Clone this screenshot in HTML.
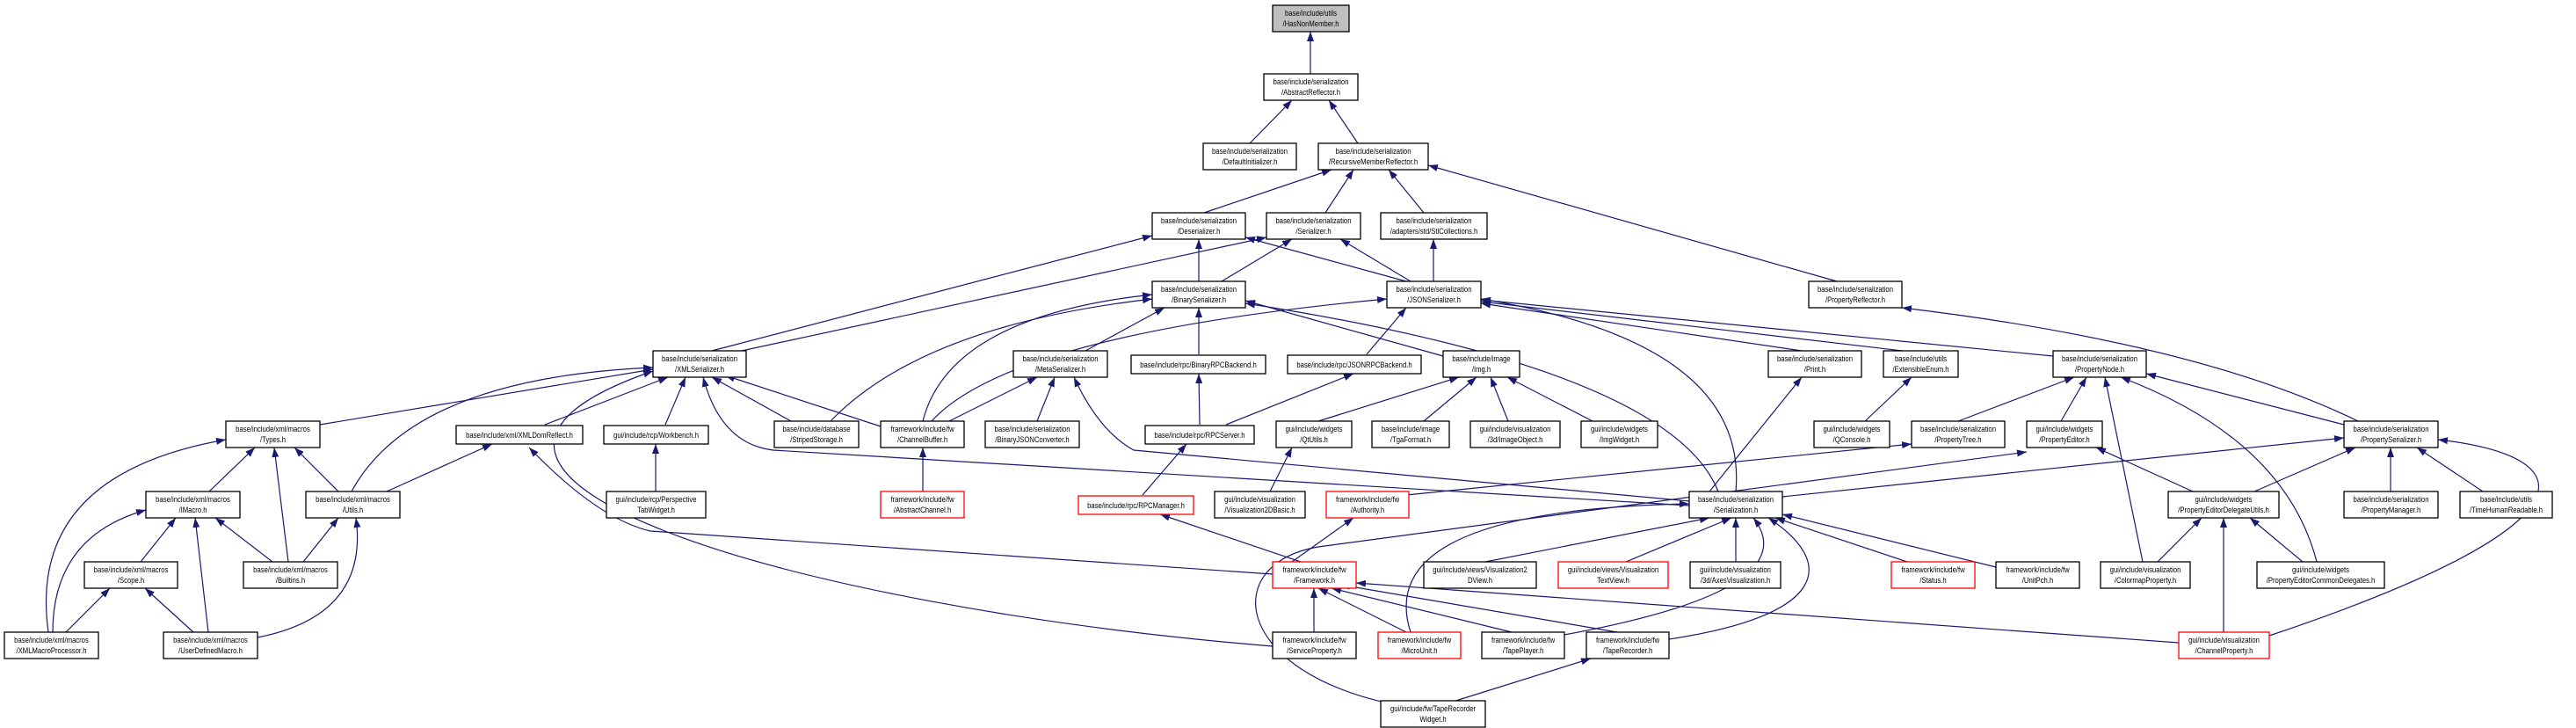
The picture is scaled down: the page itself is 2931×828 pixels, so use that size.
<!DOCTYPE html>
<html><head><meta charset="utf-8">
<style>
html,body{margin:0;padding:0;background:#fff;}
svg{display:block;}
text{font-family:"Liberation Sans",sans-serif;font-size:9.4px;fill:#000;transform-box:fill-box;transform-origin:center;transform:scaleX(0.82);}
.n{fill:#fff;stroke:#000;stroke-width:1.3;}
.g{fill:#bfbfbf;stroke:#000;stroke-width:1.3;}
.r{fill:#fff;stroke:#ff0000;stroke-width:1.3;}
.e{fill:none;stroke:#191970;stroke-width:1.2;marker-end:url(#a);}
</style></head><body>
<svg width="2931" height="828" viewBox="0 0 2931 828" xmlns="http://www.w3.org/2000/svg">
<defs><marker id="a" markerUnits="userSpaceOnUse" markerWidth="11" markerHeight="8" refX="11" refY="4" orient="auto"><path d="M0,0 L11,4 L0,8 z" fill="#191970"/></marker></defs>

<g>
<path class="e" d="M1491,84 L1491,36"/>
<path class="e" d="M1422,163 L1470,114"/>
<path class="e" d="M1545,163 L1512,114"/>
<path class="e" d="M1370,242 L1515,193"/>
<path class="e" d="M1508,242 L1540,193"/>
<path class="e" d="M1620,242 L1580,193"/>
<path class="e" d="M2090,320 L1625,188"/>
<path class="e" d="M1364,320 L1364,272"/>
<path class="e" d="M1390,320 L1470,272"/>
<path class="e" d="M1600,320 L1417,270"/>
<path class="e" d="M1605,320 L1525,272"/>
<path class="e" d="M1631,320 L1631,272"/>
<path class="e" d="M810,399 L1311,268"/>
<path class="e" d="M830,402 L1441,270"/>
<path class="e" d="M1235,399 L1325,350"/>
<path class="e" d="M1364,403 L1364,350"/>
<path class="e" d="M1555,403 L1600,350"/>
<path class="e" d="M1642,405 L1417,342"/>
<path class="e" d="M1050,479 Q1080,360 1311,335"/>
<path class="e" d="M945,479 Q1050,370 1311,340"/>
<path class="e" d="M1060,479 Q1150,380 1578,340"/>
<path class="e" d="M1955,559 Q1900,420 1417,345"/>
<path class="e" d="M1975,559 Q1990,390 1685,340"/>
<path class="e" d="M2050,399 L1685,345"/>
<path class="e" d="M2165,399 L1685,343"/>
<path class="e" d="M2336,405 L1685,341"/>
<path class="e" d="M2683,479 Q2500,390 2164,350"/>
<path class="e" d="M364,483 L743,420"/>
<path class="e" d="M400,559 Q470,430 743,418"/>
<path class="e" d="M620,483 L760,429"/>
<path class="e" d="M757,483 L780,429"/>
<path class="e" d="M900,479 L810,429"/>
<path class="e" d="M1002,485 L825,427"/>
<path class="e" d="M1922,575 L880,512 Q820,505 800,429"/>
<path class="e" d="M1448,735 C900,690 400,540 743,422"/>
<path class="e" d="M1080,479 L1180,429"/>
<path class="e" d="M1180,479 L1200,429"/>
<path class="e" d="M1922,570 L1290,512 Q1250,490 1222,429"/>
<path class="e" d="M1395,483 L1540,425"/>
<path class="e" d="M1365,483 L1364,425"/>
<path class="e" d="M1300,563 L1350,505"/>
<path class="e" d="M1480,639 L1320,585"/>
<path class="e" d="M1050,559 L1050,509"/>
<path class="e" d="M746,559 L746,505"/>
<path class="e" d="M1445,559 L1470,509"/>
<path class="e" d="M1500,479 L1660,429"/>
<path class="e" d="M1620,479 L1680,429"/>
<path class="e" d="M1716,479 L1696,429"/>
<path class="e" d="M1812,479 L1715,429"/>
<path class="e" d="M2122,479 L2175,429"/>
<path class="e" d="M2228,479 L2360,429"/>
<path class="e" d="M2345,479 L2374,429"/>
<path class="e" d="M2438,639 L2395,429"/>
<path class="e" d="M2636,639 Q2600,500 2413,429"/>
<path class="e" d="M2667,483 L2442,425"/>
<path class="e" d="M1600,563 L2175,505"/>
<path class="e" d="M2028,565 L2667,498"/>
<path class="e" d="M1580,800 C1400,760 1390,640 1500,622 L2306,514"/>
<path class="e" d="M1945,559 L2050,429"/>
<path class="e" d="M1690,639 L1945,589"/>
<path class="e" d="M1850,639 L1970,589"/>
<path class="e" d="M1975,639 L1975,589"/>
<path class="e" d="M2170,639 L2020,589"/>
<path class="e" d="M2271,645 L2028,585"/>
<path class="e" d="M1605,719 Q1560,580 1922,573"/>
<path class="e" d="M1780,722 C1900,700 2050,660 1995,589"/>
<path class="e" d="M1899,727 C2080,700 2090,640 2012,589"/>
<path class="e" d="M1600,719 L1500,669"/>
<path class="e" d="M1720,719 L1515,669"/>
<path class="e" d="M1840,719 L1525,665"/>
<path class="e" d="M1495,719 L1495,669"/>
<path class="e" d="M2479,731 L1543,663"/>
<path class="e" d="M1448,653 L740,604 Q680,590 602,509"/>
<path class="e" d="M1470,639 L1540,589"/>
<path class="e" d="M1650,799 L1810,749"/>
<path class="e" d="M2530,719 L2530,589"/>
<path class="e" d="M2582,723 C2950,600 2950,520 2774,500"/>
<path class="e" d="M2455,639 L2505,589"/>
<path class="e" d="M2620,639 L2560,589"/>
<path class="e" d="M2495,559 L2385,509"/>
<path class="e" d="M2565,559 L2680,509"/>
<path class="e" d="M2720,559 L2720,509"/>
<path class="e" d="M2825,559 L2750,509"/>
<path class="e" d="M238,559 L290,509"/>
<path class="e" d="M385,559 L335,509"/>
<path class="e" d="M440,559 L560,505"/>
<path class="e" d="M328,639 L312,509"/>
<path class="e" d="M310,639 L245,589"/>
<path class="e" d="M345,639 L385,589"/>
<path class="e" d="M160,639 L200,589"/>
<path class="e" d="M75,719 L125,669"/>
<path class="e" d="M220,719 L165,669"/>
<path class="e" d="M237,719 L222,589"/>
<path class="e" d="M293,725 Q420,700 405,589"/>
<path class="e" d="M55,719 Q30,540 257,500"/>
<path class="e" d="M60,719 Q60,610 166,580"/>
</g>

<g text-anchor="middle">
<rect class="g" x="1448" y="6" width="87" height="30"/><text x="1491.5" y="18">base/include/utils</text><text x="1491.5" y="30">/HasNonMember.h</text>
<rect class="n" x="1438" y="84" width="107" height="30"/><text x="1491.5" y="96">base/include/serialization</text><text x="1491.5" y="108">/AbstractReflector.h</text>
<rect class="n" x="1369" y="163" width="106" height="30"/><text x="1422" y="175">base/include/serialization</text><text x="1422" y="187">/DefaultInitializer.h</text>
<rect class="n" x="1500" y="163" width="125" height="30"/><text x="1562.5" y="175">base/include/serialization</text><text x="1562.5" y="187">/RecursiveMemberReflector.h</text>
<rect class="n" x="1311" y="242" width="106" height="30"/><text x="1364" y="254">base/include/serialization</text><text x="1364" y="266">/Deserializer.h</text>
<rect class="n" x="1441" y="242" width="107" height="30"/><text x="1494.5" y="254">base/include/serialization</text><text x="1494.5" y="266">/Serializer.h</text>
<rect class="n" x="1571" y="242" width="121" height="30"/><text x="1631.5" y="254">base/include/serialization</text><text x="1631.5" y="266">/adapters/std/StlCollections.h</text>
<rect class="n" x="1311" y="320" width="106" height="30"/><text x="1364" y="332">base/include/serialization</text><text x="1364" y="344">/BinarySerializer.h</text>
<rect class="n" x="1578" y="320" width="107" height="30"/><text x="1631.5" y="332">base/include/serialization</text><text x="1631.5" y="344">/JSONSerializer.h</text>
<rect class="n" x="2058" y="320" width="106" height="30"/><text x="2111" y="332">base/include/serialization</text><text x="2111" y="344">/PropertyReflector.h</text>
<rect class="n" x="743" y="399" width="106" height="30"/><text x="796" y="411">base/include/serialization</text><text x="796" y="423">/XMLSerializer.h</text>
<rect class="n" x="1153" y="399" width="107" height="30"/><text x="1206.5" y="411">base/include/serialization</text><text x="1206.5" y="423">/MetaSerializer.h</text>
<rect class="n" x="1287" y="404" width="153" height="21"/><text x="1363.5" y="418">base/include/rpc/BinaryRPCBackend.h</text>
<rect class="n" x="1465" y="404" width="152" height="21"/><text x="1541" y="418">base/include/rpc/JSONRPCBackend.h</text>
<rect class="n" x="1642" y="399" width="87" height="30"/><text x="1685.5" y="411">base/include/image</text><text x="1685.5" y="423">/Img.h</text>
<rect class="n" x="2012" y="399" width="106" height="30"/><text x="2065" y="411">base/include/serialization</text><text x="2065" y="423">/Print.h</text>
<rect class="n" x="2143" y="399" width="85" height="30"/><text x="2185.5" y="411">base/include/utils</text><text x="2185.5" y="423">/ExtensibleEnum.h</text>
<rect class="n" x="2336" y="399" width="106" height="30"/><text x="2389" y="411">base/include/serialization</text><text x="2389" y="423">/PropertyNode.h</text>
<rect class="n" x="257" y="479" width="107" height="30"/><text x="310.5" y="491">base/include/xml/macros</text><text x="310.5" y="503">/Types.h</text>
<rect class="n" x="519" y="484" width="144" height="21"/><text x="591" y="498">base/include/xml/XMLDomReflect.h</text>
<rect class="n" x="687" y="484" width="119" height="21"/><text x="746.5" y="498">gui/include/rcp/Workbench.h</text>
<rect class="n" x="881" y="479" width="96" height="30"/><text x="929" y="491">base/include/database</text><text x="929" y="503">/StripedStorage.h</text>
<rect class="n" x="1002" y="479" width="95" height="30"/><text x="1049.5" y="491">framework/include/fw</text><text x="1049.5" y="503">/ChannelBuffer.h</text>
<rect class="n" x="1121" y="479" width="107" height="30"/><text x="1174.5" y="491">base/include/serialization</text><text x="1174.5" y="503">/BinaryJSONConverter.h</text>
<rect class="n" x="1303" y="484" width="124" height="21"/><text x="1365" y="498">base/include/rpc/RPCServer.h</text>
<rect class="n" x="1452" y="479" width="86" height="30"/><text x="1495" y="491">gui/include/widgets</text><text x="1495" y="503">/QtUtils.h</text>
<rect class="n" x="1561" y="479" width="88" height="30"/><text x="1605" y="491">base/include/image</text><text x="1605" y="503">/TgaFormat.h</text>
<rect class="n" x="1673" y="479" width="102" height="30"/><text x="1724" y="491">gui/include/visualization</text><text x="1724" y="503">/3d/ImageObject.h</text>
<rect class="n" x="1799" y="479" width="87" height="30"/><text x="1842.5" y="491">gui/include/widgets</text><text x="1842.5" y="503">/ImgWidget.h</text>
<rect class="n" x="2064" y="479" width="86" height="30"/><text x="2107" y="491">gui/include/widgets</text><text x="2107" y="503">/QConsole.h</text>
<rect class="n" x="2175" y="479" width="106" height="30"/><text x="2228" y="491">base/include/serialization</text><text x="2228" y="503">/PropertyTree.h</text>
<rect class="n" x="2306" y="479" width="86" height="30"/><text x="2349" y="491">gui/include/widgets</text><text x="2349" y="503">/PropertyEditor.h</text>
<rect class="n" x="2667" y="479" width="107" height="30"/><text x="2720.5" y="491">base/include/serialization</text><text x="2720.5" y="503">/PropertySerializer.h</text>
<rect class="n" x="166" y="559" width="107" height="30"/><text x="219.5" y="571">base/include/xml/macros</text><text x="219.5" y="583">/IMacro.h</text>
<rect class="n" x="348" y="559" width="107" height="30"/><text x="401.5" y="571">base/include/xml/macros</text><text x="401.5" y="583">/Utils.h</text>
<rect class="n" x="690" y="559" width="113" height="30"/><text x="746.5" y="571">gui/include/rcp/Perspective</text><text x="746.5" y="583">TabWidget.h</text>
<rect class="r" x="1002" y="559" width="95" height="30"/><text x="1049.5" y="571">framework/include/fw</text><text x="1049.5" y="583">/AbstractChannel.h</text>
<rect class="r" x="1227" y="564" width="131" height="21"/><text x="1292.5" y="578">base/include/rpc/RPCManager.h</text>
<rect class="n" x="1382" y="559" width="103" height="30"/><text x="1433.5" y="571">gui/include/visualization</text><text x="1433.5" y="583">/Visualization2DBasic.h</text>
<rect class="r" x="1509" y="559" width="94" height="30"/><text x="1556" y="571">framework/include/fw</text><text x="1556" y="583">/Authority.h</text>
<rect class="n" x="1922" y="559" width="106" height="30"/><text x="1975" y="571">base/include/serialization</text><text x="1975" y="583">/Serialization.h</text>
<rect class="n" x="2467" y="559" width="126" height="30"/><text x="2530" y="571">gui/include/widgets</text><text x="2530" y="583">/PropertyEditorDelegateUtils.h</text>
<rect class="n" x="2667" y="559" width="107" height="30"/><text x="2720.5" y="571">base/include/serialization</text><text x="2720.5" y="583">/PropertyManager.h</text>
<rect class="n" x="2799" y="559" width="105" height="30"/><text x="2851.5" y="571">base/include/utils</text><text x="2851.5" y="583">/TimeHumanReadable.h</text>
<rect class="n" x="96" y="639" width="106" height="30"/><text x="149" y="651">base/include/xml/macros</text><text x="149" y="663">/Scope.h</text>
<rect class="n" x="277" y="639" width="107" height="30"/><text x="330.5" y="651">base/include/xml/macros</text><text x="330.5" y="663">/Builtins.h</text>
<rect class="r" x="1448" y="639" width="95" height="30"/><text x="1495.5" y="651">framework/include/fw</text><text x="1495.5" y="663">/Framework.h</text>
<rect class="n" x="1620" y="639" width="128" height="30"/><text x="1684" y="651">gui/include/views/Visualization2</text><text x="1684" y="663">DView.h</text>
<rect class="r" x="1773" y="639" width="125" height="30"/><text x="1835.5" y="651">gui/include/views/Visualization</text><text x="1835.5" y="663">TextView.h</text>
<rect class="n" x="1923" y="639" width="103" height="30"/><text x="1974.5" y="651">gui/include/visualization</text><text x="1974.5" y="663">/3d/AxesVisualization.h</text>
<rect class="r" x="2152" y="639" width="95" height="30"/><text x="2199.5" y="651">framework/include/fw</text><text x="2199.5" y="663">/Status.h</text>
<rect class="n" x="2271" y="639" width="95" height="30"/><text x="2318.5" y="651">framework/include/fw</text><text x="2318.5" y="663">/UnitPch.h</text>
<rect class="n" x="2390" y="639" width="102" height="30"/><text x="2441" y="651">gui/include/visualization</text><text x="2441" y="663">/ColormapProperty.h</text>
<rect class="n" x="2568" y="639" width="145" height="30"/><text x="2640.5" y="651">gui/include/widgets</text><text x="2640.5" y="663">/PropertyEditorCommonDelegates.h</text>
<rect class="n" x="5" y="719" width="107" height="30"/><text x="58.5" y="731">base/include/xml/macros</text><text x="58.5" y="743">/XMLMacroProcessor.h</text>
<rect class="n" x="186" y="719" width="107" height="30"/><text x="239.5" y="731">base/include/xml/macros</text><text x="239.5" y="743">/UserDefinedMacro.h</text>
<rect class="n" x="1448" y="719" width="95" height="30"/><text x="1495.5" y="731">framework/include/fw</text><text x="1495.5" y="743">/ServiceProperty.h</text>
<rect class="r" x="1568" y="719" width="94" height="30"/><text x="1615" y="731">framework/include/fw</text><text x="1615" y="743">/MicroUnit.h</text>
<rect class="n" x="1686" y="719" width="94" height="30"/><text x="1733" y="731">framework/include/fw</text><text x="1733" y="743">/TapePlayer.h</text>
<rect class="n" x="1805" y="719" width="94" height="30"/><text x="1852" y="731">framework/include/fw</text><text x="1852" y="743">/TapeRecorder.h</text>
<rect class="r" x="2479" y="719" width="103" height="30"/><text x="2530.5" y="731">gui/include/visualization</text><text x="2530.5" y="743">/ChannelProperty.h</text>
<rect class="n" x="1571" y="797" width="119" height="30"/><text x="1630.5" y="809">gui/include/fw/TapeRecorder</text><text x="1630.5" y="821">Widget.h</text>
</g>
</svg>
</body></html>
